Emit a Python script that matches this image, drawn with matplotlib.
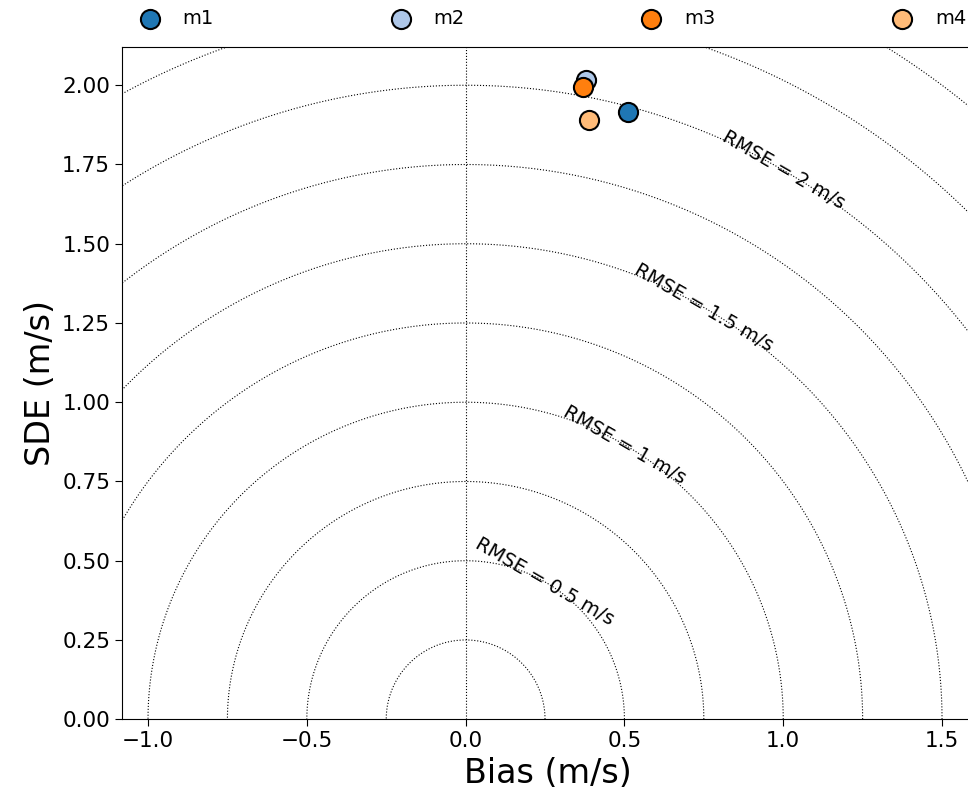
import numpy as np
import matplotlib
matplotlib.use("Agg")
import matplotlib.pyplot as plt

# model results
models = ["m1", "m2", "m3", "m4"]
bias = [0.51, 0.38, 0.37, 0.39]
sde = [1.915, 2.015, 1.995, 1.89]
colors = ["#1f77b4", "#aec7e8", "#ff7f0e", "#ffbb78"]

# rmse reference circles
radii = [0.25, 0.5, 0.75, 1.0, 1.25, 1.5, 1.75, 2.0, 2.25, 2.5, 2.75, 3.0]
labelled = [0.5, 1.0, 1.5, 2.0]
label_txt = ["RMSE = 0.5 m/s", "RMSE = 1 m/s", "RMSE = 1.5 m/s", "RMSE = 2 m/s"]

fig = plt.figure(figsize=(9.68, 8), dpi=100)
ax = fig.add_axes([0.126, 0.101, 0.88, 0.84])

theta = np.linspace(0, np.pi, 400)
for r in radii:
    ax.plot(r * np.cos(theta), r * np.sin(theta), color="black", ls=":", lw=0.8, zorder=1)
ax.axvline(0, color="black", ls=":", lw=0.8, zorder=1)

ang = np.deg2rad(60)
for r, t in zip(labelled, label_txt):
    ax.text(r * np.cos(ang), r * np.sin(ang), t, rotation=-30, ha="center", va="center",
            fontsize=14, rotation_mode="anchor")

for m, b, s, c in zip(models, bias, sde, colors):
    ax.scatter(b, s, s=190, color=c, edgecolor="black", linewidth=1.5, label=m, zorder=3)

ax.set_xlim(-1.082, 1.6)
ax.set_ylim(0, 2.12)
ax.set_xticks([-1.0, -0.5, 0.0, 0.5, 1.0, 1.5])
ax.set_yticks(np.arange(0, 2.01, 0.25))
ax.yaxis.set_major_formatter(matplotlib.ticker.FormatStrFormatter("%.2f"))
ax.tick_params(labelsize=15.5, length=5)
ax.set_xlabel("Bias (m/s)", fontsize=24)
ax.set_ylabel("SDE (m/s)", fontsize=24)

ax.legend(loc="center left", bbox_to_anchor=(-0.011, 1.043), ncol=4,
          frameon=False, fontsize=14, columnspacing=8.6, handletextpad=0.7)

fig.savefig("out.png", dpi=100)
